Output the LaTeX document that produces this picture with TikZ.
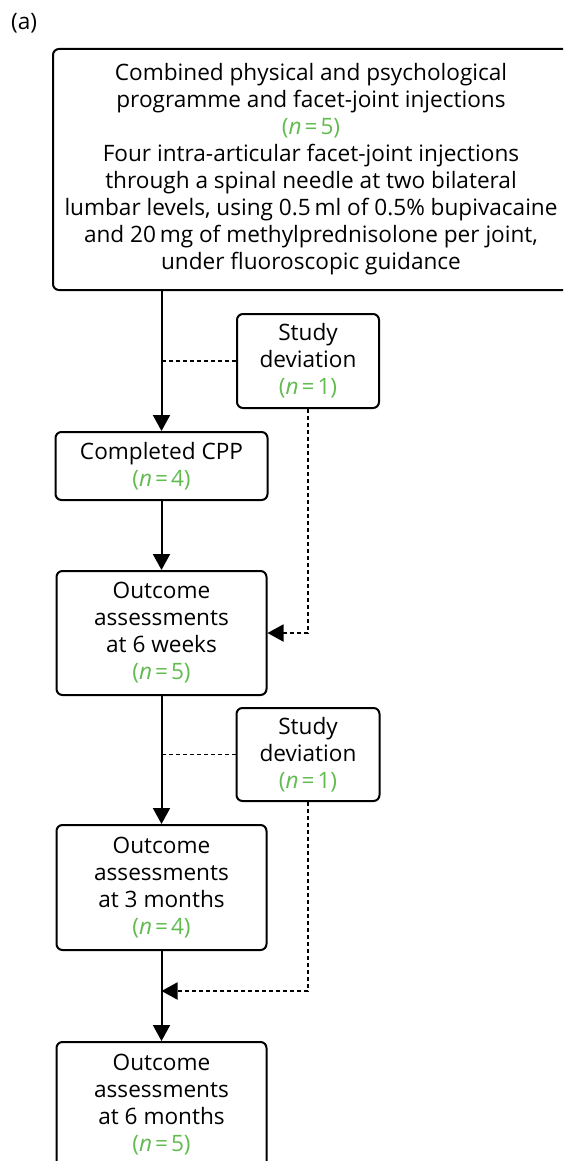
\documentclass[tikz,border=0pt]{standalone}
\usepackage{fontspec}
\setmainfont{Open Sans}
\usetikzlibrary{arrows.meta}
\definecolor{grn}{RGB}{98,187,80}
\newcommand{\ncnt}[1]{\textcolor{grn}{(\textit{n}\kern3pt=\kern3pt#1)}}
\begin{document}
\begin{tikzpicture}[x=1pt,y=-1pt,
  txt/.style={align=center,inner sep=0pt,font=\fontsize{22.6}{27}\selectfont},
  box/.style={txt,draw,line width=2pt,rounded corners=6pt},
  arr/.style={line width=2pt,-{Triangle[length=16pt,width=17pt]}},
  dsh/.style={line width=1.9pt,dash pattern=on 4pt off 3pt},
  darr/.style={dsh,-{Triangle[length=16pt,width=17pt]}}]
\clip (0,0) rectangle (563,1161);
\node[txt,anchor=west] (lbl) at (11,23) {(a)};
\node[box,minimum width=516pt,minimum height=241pt] (top) at (311,169.5) {Combined physical and psychological\\programme and facet-joint injections\\\ncnt{5}\\Four intra-articular facet-joint injections\\through a spinal needle at two bilateral\\lumbar levels, using 0.5\,ml of 0.5\% bupivacaine\\and 20\,mg of methylprednisolone per joint,\\under fluoroscopic guidance};
\node[box,minimum width=142pt,minimum height=94pt] (sd1) at (308,361) {Study\\deviation\\\ncnt{1}};
\node[box,minimum width=212pt,minimum height=68pt] (cpp) at (161.5,466) {Completed CPP\\\ncnt{4}};
\node[box,minimum width=210pt,minimum height=124pt] (w6) at (161.5,633) {Outcome\\assessments\\at 6 weeks\\\ncnt{5}};
\node[box,minimum width=143pt,minimum height=93pt] (sd2) at (308,754.5) {Study\\deviation\\\ncnt{1}};
\node[box,minimum width=210pt,minimum height=125pt] (m3) at (161.5,887.5) {Outcome\\assessments\\at 3 months\\\ncnt{4}};
\node[box,minimum width=210pt,minimum height=126pt] (m6) at (161.5,1105) {Outcome\\assessments\\at 6 months\\\ncnt{5}};
\coordinate (j) at (161.5,991);
\draw[arr] (top.south -| cpp.north) -- (cpp.north);
\draw[dsh] (sd1.west) -- (sd1.west -| cpp.north);
\draw[darr] (sd1.south) -- (sd1.south |- w6.east) -- (w6.east);
\draw[arr] (cpp.south) -- (w6.north);
\draw[arr] (w6.south) -- (m3.north);
\draw[dsh] (sd2.west) -- (sd2.west -| w6.south);
\draw[darr] (sd2.south) -- (sd2.south |- j) -- (j);
\draw[arr] (m3.south) -- (m6.north);
\end{tikzpicture}
\end{document}
